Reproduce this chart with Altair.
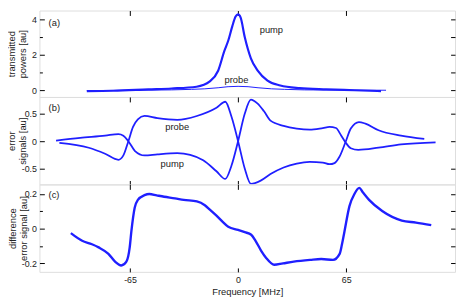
import json
import altair as alt
import pandas as pd

FONT = "Liberation Sans"
BLUE = "#1f1fff"
TXT = "#222222"

freq_domain = [-119.5, 130.5]
x_ticks = [-65, 0, 65]

# ---- panel (a): transmitted powers ----
a_pump_f = [-91, -75, -54, -40, -25, -17, -12, -8.3, -5.9, -3.5, -1.5, 0, 1.5, 4, 7.7, 11.8, 17.7, 25.4, 37, 53, 70, 86]
a_pump_v = [-0.05, -0.03, 0.05, 0.1, 0.2, 0.5, 1.1, 2.2, 2.8, 3.6, 4.15, 4.27, 4.1, 3.0, 1.8, 1.1, 0.54, 0.27, 0.12, 0.05, 0.0, -0.05]
a_probe_f = [-91, -60, -40, -28, -20, -12, -6, 0, 6, 12, 20, 28, 40, 60, 89]
a_probe_v = [-0.02, 0.0, 0.02, 0.05, 0.08, 0.14, 0.2, 0.22, 0.2, 0.14, 0.08, 0.05, 0.02, 0.01, 0.0]

# ---- panel (b): error signals ----
b_pump_f = [-109.5, -95, -80, -72, -69, -66, -62, -56.3, -48.5, -36.6, -28.8, -21, -13, -7.7, -4, 0,
            4, 7.7, 11.6, 15.5, 19.5, 27.4, 35.3, 43.1, 51, 55, 58.9, 61.9, 64.6, 67.8, 72.3, 84.5, 98, 118.8]
b_pump_v = [0.01, 0.06, 0.1, 0.13, 0.1, 0.0, -0.18, -0.26, -0.24, -0.22, -0.25, -0.35, -0.55, -0.69, -0.45, 0.0,
            0.5, 0.76, 0.69, 0.55, 0.375, 0.28, 0.23, 0.21, 0.24, 0.26, 0.24, 0.11, -0.02, -0.13, -0.16, -0.12, -0.06, -0.02]
b_probe_f = [-107.5, -89.8, -80, -72, -69, -66, -63.2, -60.3, -56.3, -48.5, -36.6, -24.8, -13, -7.7, -4, 0,
             4, 7.7, 13.6, 19.5, 27.4, 35.3, 43.1, 51, 55, 58, 60.9, 64.6, 67.8, 72.7, 76.6, 84.5, 98, 112]
b_probe_v = [-0.03, -0.12, -0.23, -0.34, -0.26, 0.0, 0.26, 0.4, 0.46, 0.42, 0.39, 0.46, 0.61, 0.72, 0.45, 0.0,
             -0.5, -0.78, -0.72, -0.6, -0.48, -0.41, -0.38, -0.39, -0.42, -0.4, -0.29, -0.02, 0.23, 0.35, 0.32, 0.2, 0.1, 0.04]

# ---- panel (c): difference error signal ----
c_f = [-100.6, -93.8, -87.9, -83.9, -78, -74, -70.3, -67.2, -65.2, -64.2, -62.2, -60.3, -56.3, -53.4, -49, -44.5,
       -38, -32.7, -24.8, -20, -17, -13, -9.1, -5.9, 0, 4, 7.9, 10.5, 13.8, 17, 21.7, 27, 33.5, 43.3, 50, 57.1,
       61.1, 62.5, 64, 67, 70, 72.9, 75, 78.8, 86.7, 98.5, 107, 116.2]
c_v = [-0.026, -0.07, -0.09, -0.108, -0.145, -0.19, -0.212, -0.19, -0.108, -0.016, 0.12, 0.166, 0.193, 0.2, 0.192, 0.184,
       0.175, 0.166, 0.157, 0.135, 0.11, 0.075, 0.038, 0.011, -0.007, -0.02, -0.035, -0.07, -0.126, -0.17, -0.208, -0.2, -0.19, -0.18, -0.175, -0.18,
       -0.145, -0.09, -0.016, 0.13, 0.2, 0.235, 0.21, 0.166, 0.102, 0.047, 0.035, 0.02]

# ---- annotations ----
a_text = pd.DataFrame({"f": [-114, 13, -1], "v": [3.77, 3.4, 0.6], "t": ["(a)", "pump", "probe"], "al": ["left", "left", "center"]})
b_text = pd.DataFrame({"f": [-114, -36.6, -39.6], "v": [0.61, 0.25, -0.41], "t": ["(b)", "probe", "pump"], "al": ["left", "center", "center"]})
c_text = pd.DataFrame({"f": [-114], "v": [0.193], "t": ["(c)"], "al": ["left"]})

W = 423
H_A, H_B, H_C = 88, 89, 89
LEFT = 32


def y_axis(majors, minors, title, title_x, height):
    test = f"indexof({json.dumps(majors)}, datum.value) >= 0"
    # grid dash draws the inward ticks on both the left and the right edge of the panel
    dash = {"condition": {"test": test, "value": [5, W - 9.5, 4.5, 1000]}, "value": [3, W - 7.5, 4.5, 1000]}
    return alt.Axis(orient="left", values=sorted(majors + minors), labelExpr=f"{test} ? toString(datum.value) : ''",
                    ticks=False, domain=False, grid=True, gridColor="black", gridOpacity=1, gridWidth=1,
                    gridDash=dash, labelFont=FONT, labelFontSize=9, labelColor=TXT, labelPadding=3,
                    title=title, titleFont=FONT, titleFontSize=9.5, titleFontWeight="normal", titleColor=TXT,
                    titleAngle=270, titleAlign="center", titleBaseline="alphabetic", titleX=title_x, titleY=height / 2,
                    titleLineHeight=11)


def x_axis(height, top_ticks, bottom_ticks, labels):
    if top_ticks and bottom_ticks:
        dash = [5, height - 9, 4, 1000]
    elif top_ticks:
        dash = [5, 1000]
    else:
        dash = [0, height - 4, 4, 1000]
    if labels:
        return alt.Axis(orient="bottom", values=x_ticks, labelExpr="toString(datum.value)", ticks=False, domain=False,
                        grid=True, gridColor="black", gridOpacity=1, gridWidth=1, gridDash=dash,
                        labelFont=FONT, labelFontSize=9, labelColor=TXT, labelPadding=4,
                        title="Frequency [MHz]", titleFont=FONT, titleFontSize=9.5, titleFontWeight="normal",
                        titleColor=TXT, titlePadding=2)
    return alt.Axis(orient="bottom", values=x_ticks, labels=False, ticks=False, domain=False, grid=True,
                    gridColor="black", gridOpacity=1, gridWidth=1, gridDash=dash, title=None)


def panel(series, text_df, y_dom, majors, minors, title, height, title_x, top_t, bot_t, labels):
    xs = alt.Scale(domain=freq_domain, nice=False, zero=False)
    ys = alt.Scale(domain=y_dom, nice=False, zero=False)
    layers = []
    for i, (f, v, sw) in enumerate(series):
        df = pd.DataFrame({"f": f, "v": v})
        if i == 0:
            xa, ya = x_axis(height, top_t, bot_t, labels), y_axis(majors, minors, title, title_x, height)
        else:
            xa, ya = None, None
        layers.append(
            alt.Chart(df).mark_line(color=BLUE, strokeWidth=sw, interpolate="monotone", clip=True).encode(
                x=alt.X("f:Q", scale=xs, axis=xa), y=alt.Y("v:Q", scale=ys, axis=ya))
        )
    for al in ["left", "center"]:
        sub = text_df[text_df["al"] == al]
        if len(sub) == 0:
            continue
        layers.append(
            alt.Chart(sub).mark_text(font=FONT, fontSize=9.5, color=TXT, align=al, baseline="middle").encode(
                x=alt.X("f:Q", scale=xs, axis=None), y=alt.Y("v:Q", scale=ys, axis=None), text="t:N")
        )
    return alt.layer(*layers).resolve_axis(x="independent", y="independent").properties(width=W, height=height)


pa = panel([(a_pump_f, a_pump_v, 2.2), (a_probe_f, a_probe_v, 1.0)], a_text, [-0.38, 4.49], [0, 2, 4], [1, 3],
           ["transmitted", "powers [au]"], H_A, -25, True, False, False)
pb = panel([(b_pump_f, b_pump_v, 1.8), (b_probe_f, b_probe_v, 1.8)], b_text, [-0.79, 0.807], [-0.5, 0, 0.5], [],
           ["error", "signals [au]"], H_B, -25, True, True, False)
pc = panel([(c_f, c_v, 2.4)], c_text, [-0.249, 0.255], [-0.2, 0, 0.2], [-0.1, 0.1],
           ["difference", "error signal [au]"], H_C, -24, True, True, True)

chart = alt.vconcat(pa, pb, pc, spacing=0, bounds="flush").properties(
    autosize=alt.AutoSizeParams(type="none"),
    padding={"left": LEFT, "top": 0, "right": 1, "bottom": 289}).configure_view(
    stroke="black", strokeWidth=1).configure(background="white")

chart.save("out.html", embed_options={"renderer": "svg", "actions": False})
